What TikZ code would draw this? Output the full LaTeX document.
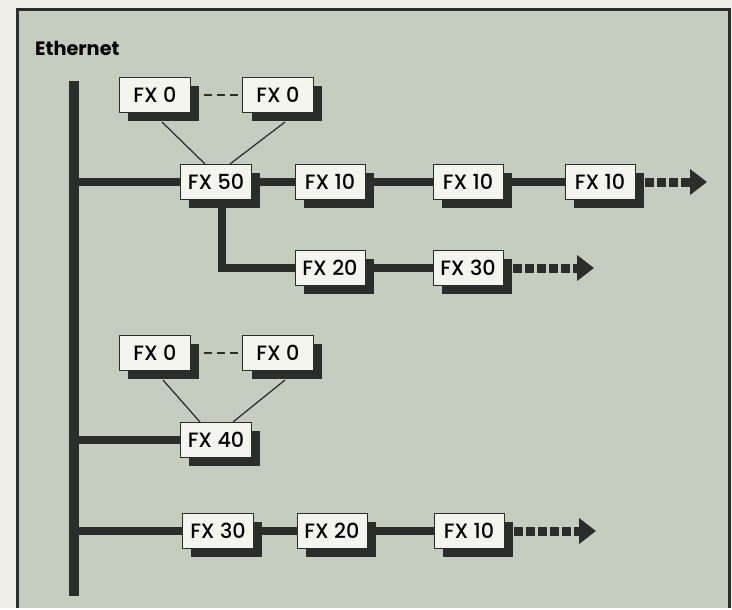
\documentclass[tikz,border=0pt]{standalone}
\usepackage{fontspec}
\setmainfont{Poppins}[UprightFont={* Medium},BoldFont={* Bold}]
\usetikzlibrary{shadows,calc,arrows.meta}
\definecolor{paper}{HTML}{EFEFE8}
\definecolor{panel}{HTML}{C5CCC0}
\definecolor{ink}{HTML}{2A2E2A}
\definecolor{card}{HTML}{F5F5EF}
\pgfdeclarelayer{back}
\pgfsetlayers{back,main}
\begin{document}
\begin{tikzpicture}[x=0.2mm,y=-0.2mm,
		every node/.style={font=\fontsize{11.8}{14}\selectfont},
		fx box/.style={draw=ink,line width=0.2mm,fill=card,inner sep=0pt,
			minimum width=14mm,minimum height=7mm,
			drop shadow={shadow xshift=1.7mm,shadow yshift=-1.6mm,fill=ink,opacity=1}},
		bus/.style={ink,line width=2mm},
		branch/.style={ink,line width=1.6mm},
		link/.style={ink,line width=0.25mm},
		spare link/.style={link,dash pattern=on 1.6mm off 1mm},
		more/.style={ink,line width=1.8mm,dash pattern=on 1.8mm off 0.6mm,
			-{Triangle[length=3.4mm,width=5mm]}}]

	\node [anchor=base west,font=\bfseries\fontsize{11}{13}\selectfont] (ethernet) at (29,55) {Ethernet};

	\node [fx box] (fx-0a) at (155,95) {FX 0};
	\node [fx box] (fx-0b) at (278,95) {FX 0};
	\node [fx box] (fx-50) at (216,182) {FX 50};
	\node [fx box] (fx-10a) at (330,182) {FX 10};
	\node [fx box] (fx-10b) at (468,182) {FX 10};
	\node [fx box] (fx-10c) at (600,182) {FX 10};
	\node [fx box] (fx-20a) at (330,268) {FX 20};
	\node [fx box] (fx-30a) at (468,268) {FX 30};

	\node [fx box] (fx-0c) at (155,353) {FX 0};
	\node [fx box] (fx-0d) at (278,353) {FX 0};
	\node [fx box] (fx-40) at (216,440) {FX 40};

	\node [fx box] (fx-30b) at (218,531) {FX 30};
	\node [fx box] (fx-20b) at (332,531) {FX 20};
	\node [fx box] (fx-10d) at (469,531) {FX 10};

	\coordinate (bus-top) at (74,81);
	\coordinate (bus-end) at (74,596);
	\coordinate (more-1) at (707,182);
	\coordinate (more-2) at (594,268);
	\coordinate (more-3) at (596,531);

	\begin{pgfonlayer}{back}
		\fill [paper] (0,0) rectangle (732,608);
		\fill [panel] (17,9) rectangle (729,608);
		\draw [ink,line width=0.6mm] (17,608) -- (17,9) -- (729,9) -- (729,608);

		\draw [bus] (bus-top) -- (bus-end);
		\draw [branch] (bus-top |- fx-50) -- (fx-10c);
		\draw [branch] ($(fx-50)+(6,0)$) |- (fx-30a);
		\draw [branch] (bus-top |- fx-40) -- (fx-40);
		\draw [branch] (bus-top |- fx-30b) -- (fx-10d);

		\draw [link] ($(fx-0a.south)+(7,9)$) -- ($(fx-50.north)+(-11,0)$);
		\draw [link] ($(fx-0b.south)+(7,9)$) -- ($(fx-50.north)+(14,0)$);
		\draw [spare link] (fx-0a) -- (fx-0b);
		\draw [link] ($(fx-0c.south)+(8,9)$) -- ($(fx-40.north)+(-16,0)$);
		\draw [link] ($(fx-0d.south)+(7,9)$) -- ($(fx-40.north)+(17,0)$);
		\draw [spare link] (fx-0c) -- (fx-0d);

		\draw [more] ($(fx-10c.east)+(9,0)$) -- (more-1);
		\draw [more] ($(fx-30a.east)+(9,0)$) -- (more-2);
		\draw [more] ($(fx-10d.east)+(9,0)$) -- (more-3);
	\end{pgfonlayer}
\end{tikzpicture}
\end{document}
